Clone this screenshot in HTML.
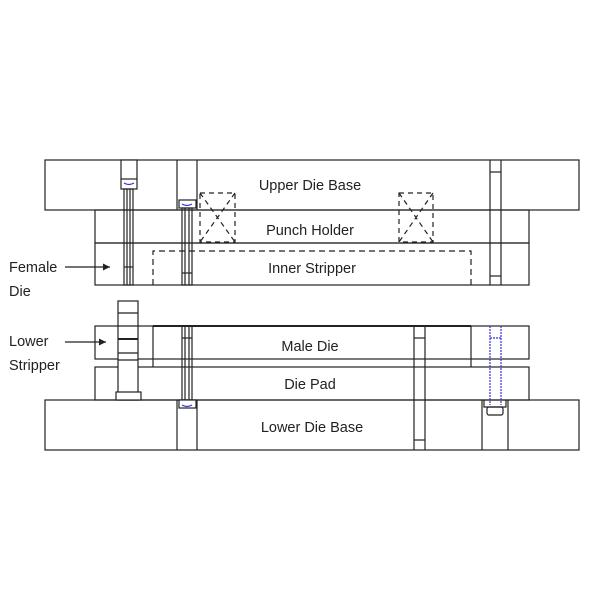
<!DOCTYPE html>
<html><head><style>body{margin:0;background:#fff}svg{display:block}text{font-family:"Liberation Sans",sans-serif;font-size:14.5px;fill:#222}</style></head><body>
<svg width="600" height="600" viewBox="0 0 600 600" xmlns="http://www.w3.org/2000/svg">
<defs><marker id="a" markerWidth="8" markerHeight="8" refX="6" refY="3" orient="auto"><path d="M0,0 L6,3 L0,6z" fill="#222"/></marker></defs>
<g fill="none" stroke="#222" stroke-width="1.2">
<rect x="45" y="160" width="534" height="50"/>
<rect x="95" y="210" width="434" height="33"/>
<rect x="95" y="243" width="434" height="42"/>
<path d="M153,285 V251 H471 V285" stroke-dasharray="6,4"/>
<rect x="200" y="193" width="35" height="49" stroke-dasharray="5,4"/>
<path d="M200,193 L235,242 M235,193 L200,242" stroke-dasharray="5,4"/>
<rect x="399" y="193" width="34" height="49" stroke-dasharray="5,4"/>
<path d="M399,193 L433,242 M433,193 L399,242" stroke-dasharray="5,4"/>
<rect x="121" y="160" width="16" height="29" fill="#fff"/>
<line x1="121" y1="179" x2="137" y2="179"/>
<rect x="124" y="189" width="9" height="96"/>
<line x1="127" y1="189" x2="127" y2="285"/><line x1="130" y1="189" x2="130" y2="285"/>
<line x1="124" y1="267" x2="133" y2="267"/>
<line x1="177" y1="160" x2="177" y2="210"/><line x1="197" y1="160" x2="197" y2="210"/>
<rect x="179" y="200" width="17" height="8" fill="#fff"/>
<rect x="182" y="208" width="10" height="77"/>
<line x1="185" y1="208" x2="185" y2="285"/><line x1="189" y1="208" x2="189" y2="285"/>
<line x1="182" y1="273" x2="192" y2="273"/>
<line x1="490" y1="160" x2="490" y2="285"/><line x1="501" y1="160" x2="501" y2="285"/>
<line x1="490" y1="172" x2="501" y2="172"/><line x1="490" y1="276" x2="501" y2="276"/>
<rect x="95" y="326" width="434" height="33"/>
<rect x="95" y="367" width="434" height="33"/>
<rect x="45" y="400" width="534" height="50"/>
<line x1="153" y1="326" x2="153" y2="367"/><line x1="471" y1="326" x2="471" y2="367"/>
<line x1="153" y1="326" x2="471" y2="326" stroke-width="2"/>
<line x1="177" y1="400" x2="177" y2="450"/><line x1="197" y1="400" x2="197" y2="450"/>
<rect x="182" y="326" width="10" height="74"/>
<line x1="185" y1="326" x2="185" y2="400"/><line x1="189" y1="326" x2="189" y2="400"/>
<line x1="182" y1="338" x2="192" y2="338"/>
<rect x="179" y="400" width="17" height="8" fill="#fff"/>
<line x1="414" y1="326" x2="414" y2="450"/><line x1="425" y1="326" x2="425" y2="450"/>
<line x1="414" y1="338" x2="425" y2="338"/><line x1="414" y1="440" x2="425" y2="440"/>
<line x1="482" y1="400" x2="482" y2="450"/><line x1="508" y1="400" x2="508" y2="450"/>
<path d="M484,400 V407 H506 V400"/><rect x="487" y="407" width="16" height="8" rx="2"/>
<rect x="118" y="301" width="20" height="99" fill="#fff"/>
<line x1="118" y1="313" x2="138" y2="313"/><line x1="118" y1="326" x2="138" y2="326"/>
<line x1="118" y1="339" x2="138" y2="339" stroke-width="2"/><line x1="118" y1="353" x2="138" y2="353"/>
<line x1="118" y1="360" x2="138" y2="360"/>
<rect x="116" y="392" width="25" height="8" fill="#fff"/>
</g>
<g fill="none" stroke="#3333dd" stroke-width="1.2">
<path d="M124,183 q5,3 10,0"/><path d="M182,204 q5,3 10,0"/><path d="M182,405 q5,3 10,0"/>
<path d="M490,326 V405 M501,326 V405 M490,338 H501" stroke-dasharray="2,1"/>
</g>
<g fill="none" stroke="#222" stroke-width="1.2">
<line x1="65" y1="267" x2="110" y2="267" marker-end="url(#a)"/>
<line x1="65" y1="342" x2="106" y2="342" marker-end="url(#a)"/>
</g>
<g text-anchor="middle">
<text x="310" y="190">Upper Die Base</text>
<text x="310" y="235">Punch Holder</text>
<text x="312" y="273">Inner Stripper</text>
<text x="310" y="351">Male Die</text>
<text x="310" y="389">Die Pad</text>
<text x="312" y="432">Lower Die Base</text>
</g>
<text x="9" y="272">Female</text><text x="9" y="296">Die</text>
<text x="9" y="346">Lower</text><text x="9" y="370">Stripper</text>
</svg>
</body></html>
